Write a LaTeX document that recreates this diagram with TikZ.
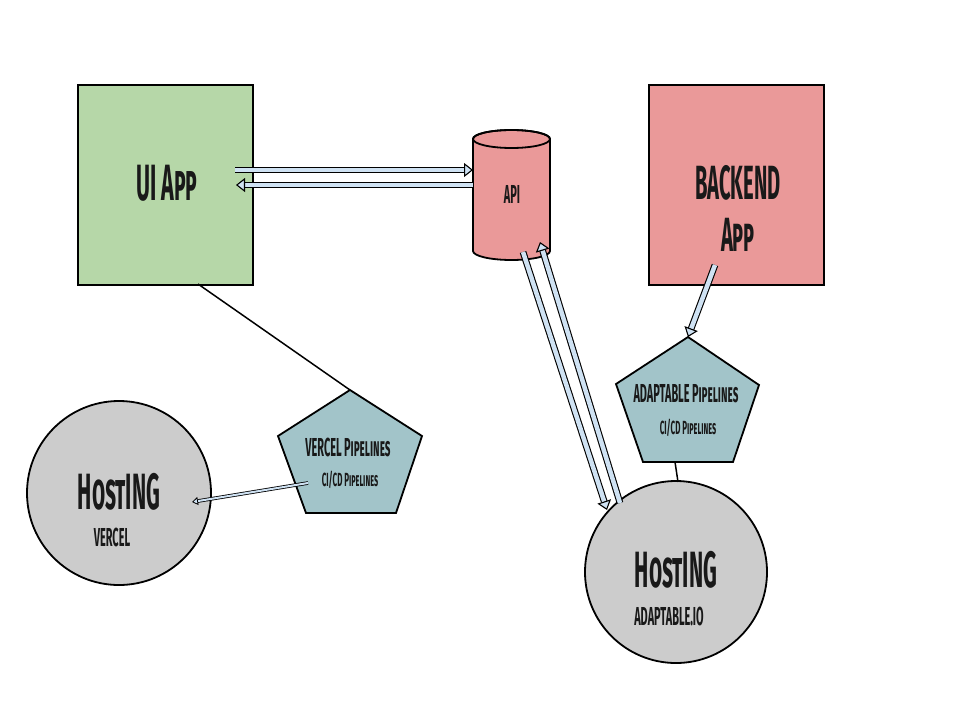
\documentclass[tikz,border=0pt]{standalone}
\usepackage{fontspec}
\newfontfamily\hand[FakeStretch=0.42,Letters=SmallCaps]{Fira Sans}
\usetikzlibrary{arrows.meta}
\definecolor{uigreen}{HTML}{B6D7A8}
\definecolor{apired}{HTML}{EA9999}
\definecolor{pipeteal}{HTML}{A2C4C9}
\definecolor{hostgrey}{HTML}{CCCCCC}
\definecolor{arrowblue}{HTML}{CFE2F3}
\begin{document}
\begin{tikzpicture}[x=1pt,y=-1pt,
  box/.style={draw=black, line width=1.8pt},
  lbl/.style={inner sep=0pt, align=center, text=black!90},
  fbig/.style={font=\hand\bfseries\fontsize{51pt}{45pt}\selectfont},
  fbe/.style={font=\hand\bfseries\fontsize{48pt}{52pt}\selectfont},
  fmid/.style={font=\hand\bfseries\fontsize{26pt}{26pt}\selectfont},
  fsmall/.style={font=\hand\bfseries\fontsize{19pt}{19pt}\selectfont},
  dblarrow/.style={line width=1.1pt, double=arrowblue, double distance=4.5pt,
    -{Triangle[open, fill=arrowblue, length=9pt, width=14pt]}},
  thinarrow/.style={line width=0.8pt, double=arrowblue, double distance=2pt,
    -{Triangle[open, fill=arrowblue, length=6pt, width=8pt]}},
  plainline/.style={draw=black, line width=1.5pt}
]
\useasboundingbox (0,0) rectangle (960,720);

% boxes
\node[box, fill=uigreen, minimum width=175pt, minimum height=200pt, anchor=north west] (ui) at (77,84) {};
\node[lbl, fbig] (uitext) at (167,183) {UI App};

\node[box, fill=apired, minimum width=175pt, minimum height=200pt, anchor=north west] (be) at (648,84) {};
\node[lbl, fbe] (betext) at (738,208) {BACKEND\\App};

% API cylinder
\draw[box, fill=apired] (473,139) -- (473,251)
  arc[start angle=180, end angle=0, x radius=38.5, y radius=9] -- (550,139)
  arc[start angle=0, end angle=-180, x radius=38.5, y radius=9] -- cycle;
\draw[box] (511.5,139) ellipse[x radius=38.5, y radius=9];
\node[lbl, fmid] (api) at (512,194) {API};

% pentagons
\draw[box, fill=pipeteal] (350,390) coordinate (vpT) -- (422,436) -- (396,513) -- (306,513) -- (278,436) -- cycle;
\node[lbl, fmid] (vptext) at (348,447) {VERCEL Pipelines};
\node[lbl, fsmall] (vpsub) at (350,480) {CI/CD Pipelines};

\draw[box, fill=pipeteal] (688,337) coordinate (apT) -- (759,385) -- (733,462) -- (643,462) -- (616,384) -- cycle;
\node[lbl, fmid] (aptext) at (686,394) {ADAPTABLE Pipelines};
\node[lbl, fsmall] (apsub) at (688,428) {CI/CD Pipelines};

% hosting circles
\node[box, circle, fill=hostgrey, minimum size=184pt] (hv) at (119,493) {};
\node[lbl, fbig] (hvtext) at (119,492) {HostING};
\node[lbl, fmid] (hvsub) at (112,537) {VERCEL};

\node[box, circle, fill=hostgrey, minimum size=182pt] (ha) at (676,572) {};
\node[lbl, fbig] (hatext) at (676,570) {HostING};
\node[lbl, fmid] (hasub) at (669,616) {ADAPTABLE.IO};

% connector end points
\coordinate (uiOut) at (235,170);
\coordinate (apiIn) at (473,170);
\coordinate (apiOut) at (473,185);
\coordinate (uiIn) at (236,185);
\coordinate (apiDown) at (523,252);
\coordinate (haIn) at (607,510);
\coordinate (haOut) at (620,503);
\coordinate (apiUp) at (540,242);
\coordinate (beOut) at (715,265);
\coordinate (uiLine) at (198,284);
\coordinate (vpOut) at (308,483);
\coordinate (hvIn) at (192,502);
\coordinate (apB) at (675,462);
\coordinate (haTop) at (678,482);

% connectors
\draw[plainline] (uiLine) -- (vpT);
\draw[plainline] (apB) -- (haTop);
\draw[dblarrow] (uiOut) -- (apiIn);
\draw[dblarrow] (apiOut) -- (uiIn);
\draw[dblarrow] (apiDown) -- (haIn);
\draw[dblarrow] (haOut) -- (apiUp);
\draw[dblarrow] (beOut) -- (apT);
\draw[thinarrow] (vpOut) -- (hvIn);
\end{tikzpicture}
\end{document}
